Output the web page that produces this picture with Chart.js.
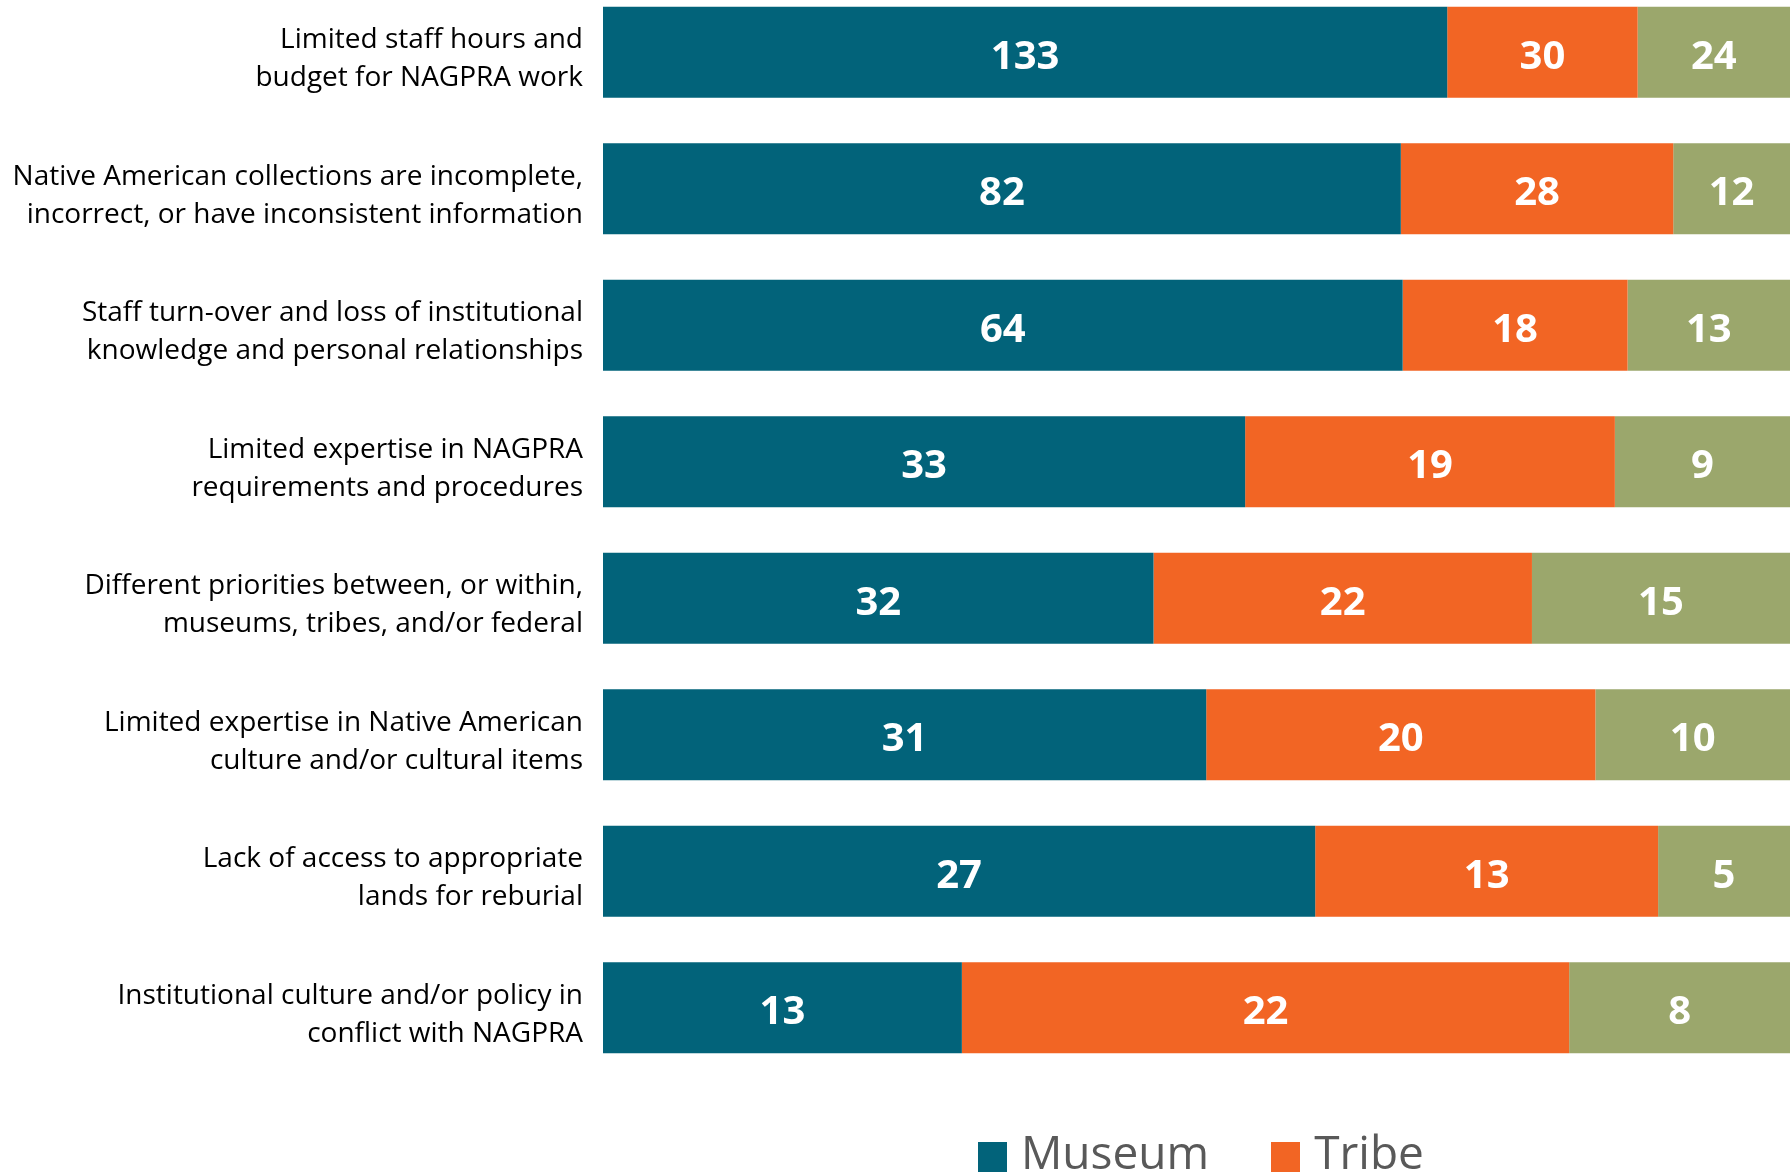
<!DOCTYPE html>
<html>
<head>
<meta charset="utf-8">
<script src="https://cdn.jsdelivr.net/npm/chart.js@4.4.1/dist/chart.umd.min.js"></script>
<style>
    html, body { margin: 0; padding: 0; background: #fff; overflow: hidden; }
    body { width: 1790px; height: 1176px; position: relative; font-family: 'Open Sans', sans-serif; }
    /* chart area spans y = -16 .. 1074; the axis adds ~52px label padding on each end */
    #wrap { position: absolute; left: 0; top: -66px; width: 1790px; height: 1192px; }
    #legend { position: absolute; top: 1120px; left: 978px; display: flex; align-items: center; color: #595959; font-size: 46px; white-space: nowrap; }
    #legend .item { display: flex; align-items: center; margin-right: 62px; }
    #legend .box { width: 29px; height: 30px; margin-right: 14px; margin-top: 12px; }
</style>
</head>
<body>
<div id="wrap"><canvas id="barChart"></canvas></div>
<div id="legend"></div>
<script>
// categories (multi-line labels)
const categories = [
    ['Limited staff hours and', 'budget for NAGPRA work'],
    ['Native American collections are incomplete,', 'incorrect, or have inconsistent information'],
    ['Staff turn-over and loss of institutional', 'knowledge and personal relationships'],
    ['Limited expertise in NAGPRA', 'requirements and procedures'],
    ['Different priorities between, or within,', 'museums, tribes, and/or federal'],
    ['Limited expertise in Native American', 'culture and/or cultural items'],
    ['Lack of access to appropriate', 'lands for reburial'],
    ['Institutional culture and/or policy in', 'conflict with NAGPRA']
];

// counts per group
const museumCounts = [133, 82, 64, 33, 32, 31, 27, 13];
const tribeCounts = [30, 28, 18, 19, 22, 20, 13, 22];
const federalCounts = [24, 12, 13, 9, 15, 10, 5, 8];

const seriesNames = ['Museum', 'Tribe', 'Federal Agency'];
const seriesColors = ['#02637A', '#F26524', '#9BA76C'];
const legendShown = ['Museum', 'Tribe'];

// each bar is shown as share of its row total
const totals = museumCounts.map((m, i) => m + tribeCounts[i] + federalCounts[i]);
const toShare = arr => arr.map((v, i) => v / totals[i] * 100);

const allCounts = [museumCounts, tribeCounts, federalCounts];

// draws the count in the middle of each segment
const segmentLabels = {
    id: 'segmentLabels',
    afterDatasetsDraw(chart) {
        const ctx = chart.ctx;
        ctx.save();
        ctx.fillStyle = '#fff';
        ctx.font = 'bold 40px "Open Sans"';
        ctx.textAlign = 'center';
        ctx.textBaseline = 'middle';
        chart.data.datasets.forEach((ds, di) => {
            chart.getDatasetMeta(di).data.forEach((bar, i) => {
                const cx = (bar.x + bar.base) / 2;
                ctx.fillText(allCounts[di][i], cx, bar.y + 5);
            });
        });
        ctx.restore();
    }
};

const ctx = document.getElementById('barChart').getContext('2d');
new Chart(ctx, {
    type: 'bar',
    data: {
        labels: categories,
        datasets: allCounts.map((arr, di) => ({
            label: seriesNames[di],
            data: toShare(arr),
            backgroundColor: seriesColors[di],
            borderWidth: 0,
            categoryPercentage: 1,
            barPercentage: 0.668
        }))
    },
    options: {
        indexAxis: 'y',
        responsive: true,
        maintainAspectRatio: false,
        animation: false,
        layout: { padding: 0 },
        plugins: {
            legend: { display: false },
            tooltip: { enabled: false }
        },
        scales: {
            x: { stacked: true, display: false, min: 0, max: 100 },
            y: {
                stacked: true,
                grid: { display: false },
                border: { display: false },
                afterFit: scale => { scale.width = 603; },
                ticks: {
                    color: '#000',
                    padding: 12,
                    labelOffset: 7,
                    font: { family: 'Open Sans', size: 28, lineHeight: 1.357 }
                }
            }
        }
    },
    plugins: [segmentLabels]
});

// legend (only the first two entries fit in the frame)
const legendEl = document.getElementById('legend');
legendShown.forEach(name => {
    const i = seriesNames.indexOf(name);
    const item = document.createElement('div');
    item.className = 'item';
    item.innerHTML = '<span class="box" style="background:' + seriesColors[i] + '"></span><span>' + name + '</span>';
    legendEl.appendChild(item);
});
</script>
</body>
</html>
